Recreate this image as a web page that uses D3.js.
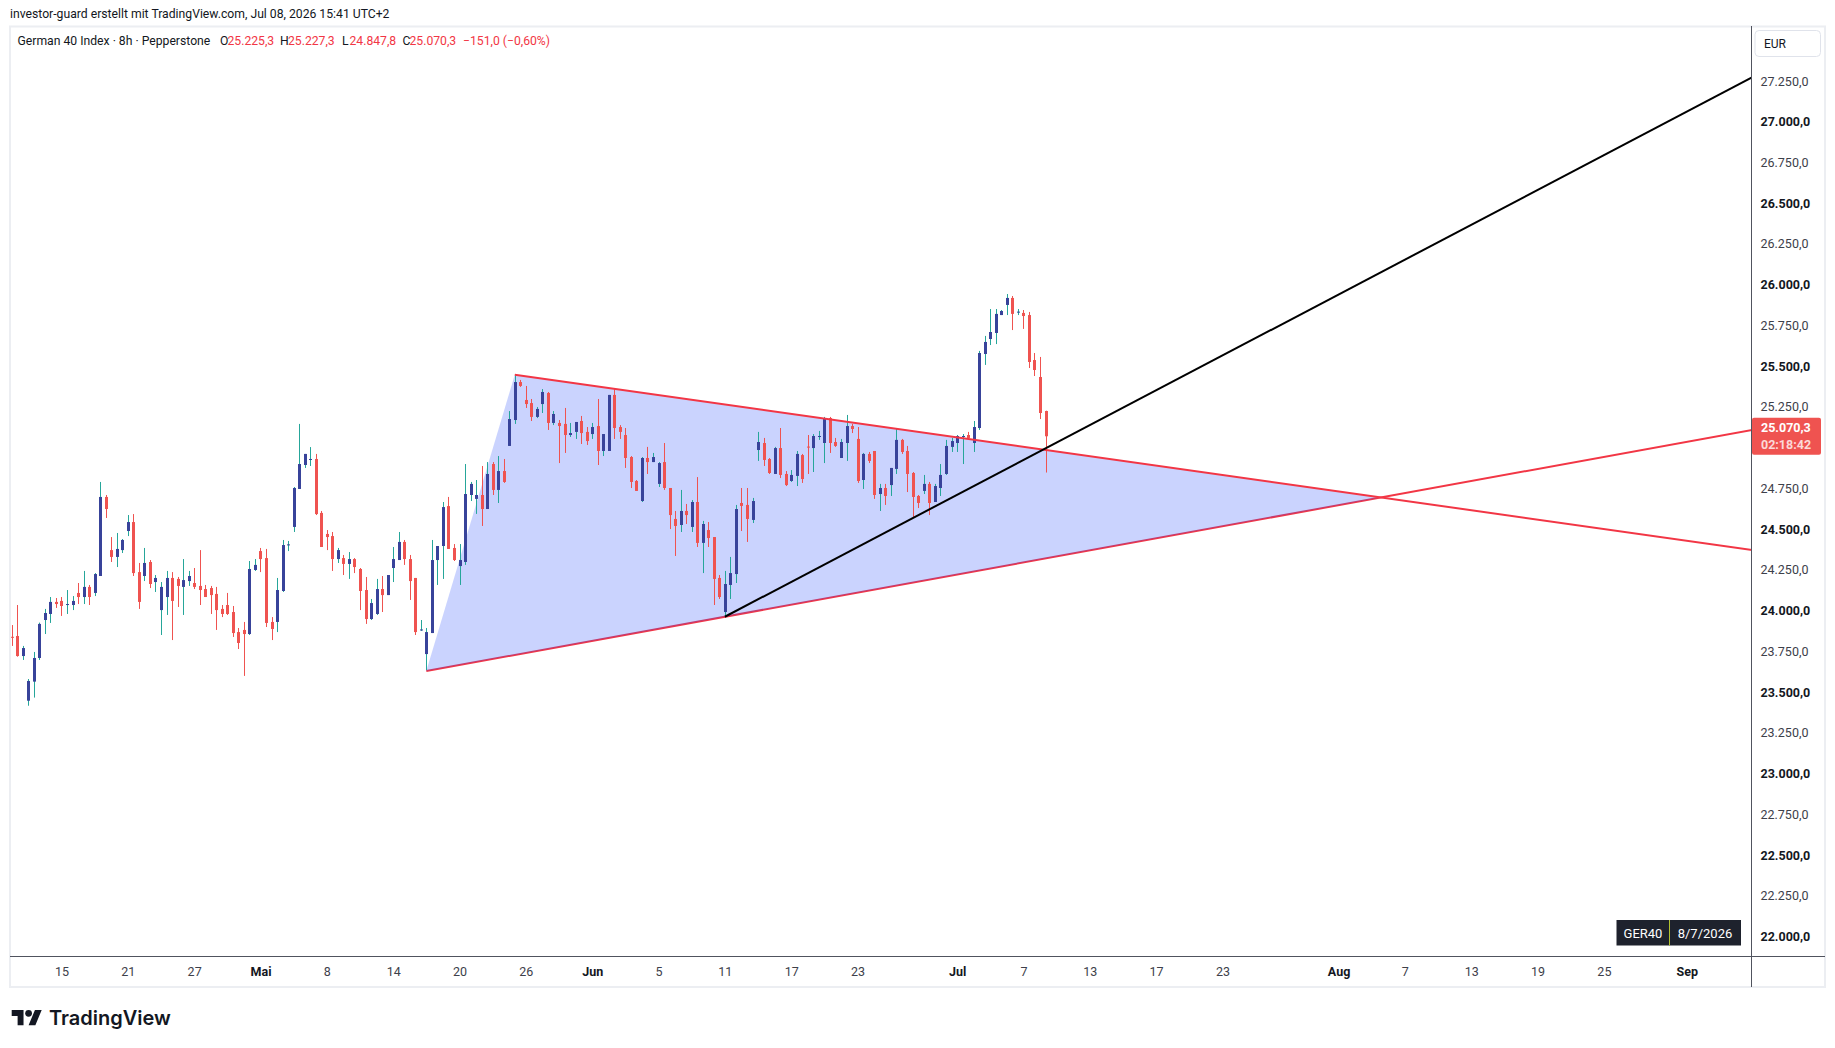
<!DOCTYPE html>
<html>
<head>
<meta charset="utf-8">
<script src="https://cdn.jsdelivr.net/npm/d3@7/dist/d3.min.js"></script>
<style>
body { margin: 0; background: #fff; overflow: hidden; }
svg text { font-family: Roboto, "Noto Sans", sans-serif; }
</style>
</head>
<body>
<div id="chart"></div>
<script>
// GER40 8h candles (bar 1 .. 188)
var opens = [23840,23845,23722,23448,23565,23710,23943,23980,24054,24060,24037,24035,24109,24084,24146,24109,24213,24698,24372,24330,
  24372,24489,24544,24237,24213,24299,24176,24004,24084,24201,24195,24146,24182,24170,24152,24133,24139,24103,24011,24035,
  23992,23869,23882,23857,24250,24366,24323,23931,23931,24121,24403,24514,24747,24894,24927,24931,24600,24471,24458,24317,
  24323,24287,24317,24256,24127,23949,23980,24133,24096,24262,24311,24422,24317,24201,23880,23734,23863,24311,24397,24642,
  24385,24274,24299,24710,24686,24710,24624,24900,24741,24857,25011,25170,25403,25293,25274,25189,25268,25336,25152,25152,
  25146,25078,25097,25164,25097,25084,25133,24980,24980,25324,25127,25078,24943,24796,24673,24937,24912,24778,24912,24753,
  24563,24526,24612,24514,24667,24416,24495,24452,24201,23992,24158,24225,24661,24649,24557,24986,25029,24931,24839,24998,
  24839,24796,24827,24955,25007,24998,25068,25029,25182,25035,24937,25029,25133,25054,24802,24962,24980,24716,24753,24771,
  24870,25048,24980,24845,24704,24735,24778,24667,24753,24839,25005,25029,25068,25078,25029,25121,25575,25667,25704,25814,
  25876,25919,25831,25827,25814,25538,25434,25225.3];
var highs = [23912,24035,23784,23581,23747,23927,24011,24084,24078,24084,24127,24090,24170,24244,24158,24231,24790,24710,24452,24477,
  24440,24587,24593,24293,24385,24311,24219,24176,24244,24237,24207,24317,24244,24262,24372,24158,24152,24146,24035,24109,
  24029,23894,23931,24305,24317,24385,24379,23961,24201,24434,24428,24759,25146,24962,25004,24962,24612,24495,24483,24385,
  24342,24360,24323,24262,24207,24072,24195,24213,24219,24391,24483,24434,24342,24201,23943,23894,24434,24397,24667,24698,
  24409,24409,24900,24790,24802,24888,24912,24912,24949,24931,25225,25446,25416,25379,25299,25250,25360,25342,25225,25170,
  25244,25152,25158,25195,25127,25152,25299,25084,25324,25360,25139,25121,24949,24802,24943,25005,24968,24912,25029,24753,
  24612,24741,24655,24679,24820,24551,24544,24452,24219,24244,24330,24649,24753,24753,24692,25097,25060,24937,25005,25121,
  24857,24863,24980,24962,25078,25084,25103,25189,25189,25060,25054,25201,25146,25127,24968,24974,24980,24778,24778,24876,
  25115,25054,25011,24851,24710,24833,24790,24778,24900,25048,25060,25078,25084,25097,25164,25594,25686,25851,25851,25845,
  25943,25931,25851,25845,25833,25581,25557,25227.3];
var lows = [23784,23718,23698,23417,23467,23698,23857,23925,24017,23968,23980,24004,24041,24041,24035,24090,24213,24569,24299,24268,
  24354,24458,24213,24011,24182,24139,24115,23851,23974,23820,24023,23974,24152,24133,24035,24084,23980,23882,23961,23974,
  23839,23765,23600,23851,24244,24237,23900,23820,23869,24115,24366,24483,24747,24876,24888,24587,24391,24372,24244,24293,
  24219,24195,24231,24004,23919,23943,23974,23992,24096,24176,24311,24281,24066,23851,23876,23636,23863,24158,24195,24379,
  24305,24158,24281,24673,24594,24520,24624,24710,24661,24784,25011,25146,25373,25244,25164,25182,25213,25109,25139,24906,
  24968,25066,25054,25023,25017,25054,24894,24949,24980,25054,25054,24876,24753,24735,24667,24839,24912,24759,24741,24501,
  24336,24483,24532,24483,24391,24231,24391,24035,24072,23962,24072,24170,24489,24422,24538,24919,24888,24839,24839,24814,
  24765,24790,24765,24784,24839,24851,25048,24906,24968,25005,24937,24919,25090,24784,24747,24906,24686,24612,24649,24704,
  24839,24962,24728,24569,24630,24716,24587,24667,24704,24833,24974,24974,24900,25060,24974,25109,25508,25630,25636,25814,
  25814,25722,25814,25729,25489,25440,25176,24847.8];
var closes = [23834,23722,23771,23569,23710,23919,23986,24054,24041,24029,24041,24060,24084,24146,24084,24225,24698,24624,24330,24379,
  24434,24544,24231,24054,24293,24164,24201,24146,24201,24060,24152,24188,24213,24146,24127,24084,24096,24004,23980,23980,
  23863,23802,23857,24256,24281,24317,23925,23888,24127,24403,24407,24753,24900,24962,24931,24593,24391,24452,24317,24372,
  24287,24317,24268,24121,23949,24047,24133,24096,24219,24317,24422,24317,24182,23869,23885,23869,24311,24397,24636,24379,
  24311,24311,24716,24778,24710,24624,24839,24741,24857,24790,25176,25403,25379,25268,25189,25238,25342,25152,25207,25133,
  25078,25090,25158,25090,25041,25127,24980,25084,25324,25121,25097,24937,24790,24735,24937,24912,24943,24906,24753,24587,
  24520,24612,24587,24667,24416,24532,24446,24195,24084,24164,24231,24624,24643,24563,24673,25035,24925,24845,24998,24833,
  24771,24833,24962,24808,25003,25072,25072,25182,25029,25011,25035,25133,25115,24796,24962,24919,24710,24753,24704,24876,
  25048,24974,24839,24698,24661,24778,24661,24765,24833,25011,25041,25072,25072,25060,25127,25581,25649,25710,25821,25839,
  25919,25821,25835,25808,25526,25477,25213,25070.3];

// time axis: label text and the bar index it sits on
var timeTickLabels = ["15","21","27","Mai","8","14","20","26","Jun","5","11","17","23","Jul","7","13","17","23","Aug","7","13","19","25","Sep"];
var timeTickBars = [10,22,34,46,58,70,82,94,106,118,130,142,154,172,184,196,208,220,241,253,265,277,289,304];

// drawings (bar index, price)
var triangleBars = [76, 92, 248.7];
var trianglePrices = [23630, 25448, 24695];
var blackLineBars = [130, 188];
var blackLinePrices = [23963, 24996];

var lastPrice = 25070.3;
var countdown = "02:18:42";

var width = 1835, height = 1048;
var paneLeft = 10, paneRight = 1751.5, paneTop = 27, paneBottom = 956.5;
var frameRight = 1825, frameBottom = 987;

var upBody = "#38439a", upWick = "#26a69a", downColor = "#ef5350", lineRed = "#f23645";

var svg = d3.select("#chart").append("svg")
    .attr("width", width).attr("height", height)
    .style("display", "block");

var xScale = d3.scaleLinear().domain([0.69, 315.7]).range([paneLeft, paneRight]);
var yScale = d3.scaleLinear().domain([22000, 27250]).range([936.7, 81]);

var de = d3.formatLocale({decimal: ",", thousands: ".", grouping: [3], currency: ["", "€"]});
var priceFmt = de.format(",.1f");

svg.append("defs").append("clipPath").attr("id", "pane")
  .append("rect").attr("x", paneLeft).attr("y", paneTop)
  .attr("width", paneRight - paneLeft).attr("height", paneBottom - paneTop);

// header line
svg.append("text").attr("x", 10).attr("y", 14).attr("dominant-baseline", "central")
  .style("font-size", "12.2px").attr("fill", "#131722")
  .text("investor-guard erstellt mit TradingView.com, Jul 08, 2026 15:41 UTC+2");

// frame
svg.append("rect").attr("x", 10).attr("y", 26.5).attr("width", frameRight - 10).attr("height", frameBottom - 26.5)
  .attr("fill", "none").attr("stroke", "#eceef2").attr("stroke-width", 2);

var pane = svg.append("g").attr("clip-path", "url(#pane)");

function extendTo(bars, prices, endBar) {
  var slope = (prices[1] - prices[0]) / (bars[1] - bars[0]);
  return [[bars[0], prices[0]], [endBar, prices[0] + slope * (endBar - bars[0])]];
}
var line = d3.line().x(function(d) { return xScale(d[0]); }).y(function(d) { return yScale(d[1]); });
var endBar = xScale.domain()[1] + 1;

// lower red line (under the fill)
pane.append("path")
  .attr("d", line(extendTo([triangleBars[0], triangleBars[2]], [trianglePrices[0], trianglePrices[2]], endBar)))
  .attr("stroke", lineRed).attr("stroke-width", 2).attr("fill", "none");

// triangle fill
var triPts = triangleBars.map(function(b, i) { return [b, trianglePrices[i]]; });
pane.append("path").attr("d", line(triPts) + "Z")
  .attr("fill", "rgba(45,80,250,0.25)").attr("stroke", "none");

// candles
var idx = d3.range(opens.length);
var candles = pane.append("g").selectAll("g.candle").data(idx).enter().append("g");
candles.append("line")
  .attr("x1", function(i) { return Math.round(xScale(i + 1)) + 0.5; })
  .attr("x2", function(i) { return Math.round(xScale(i + 1)) + 0.5; })
  .attr("y1", function(i) { return yScale(highs[i]); })
  .attr("y2", function(i) { return yScale(lows[i]); })
  .attr("stroke", function(i) { return closes[i] >= opens[i] ? upWick : downColor; })
  .attr("stroke-width", 1);
candles.append("rect")
  .attr("x", function(i) { return Math.round(xScale(i + 1)) - 1; })
  .attr("width", 3)
  .attr("y", function(i) { return yScale(Math.max(opens[i], closes[i])); })
  .attr("height", function(i) { return Math.max(1, Math.abs(yScale(opens[i]) - yScale(closes[i]))); })
  .attr("fill", function(i) { return closes[i] >= opens[i] ? upBody : downColor; });

// upper red line
pane.append("path")
  .attr("d", line(extendTo([triangleBars[1], triangleBars[2]], [trianglePrices[1], trianglePrices[2]], endBar)))
  .attr("stroke", lineRed).attr("stroke-width", 2).attr("fill", "none");

// black trend line
pane.append("path")
  .attr("d", line(extendTo(blackLineBars, blackLinePrices, endBar)))
  .attr("stroke", "#000").attr("stroke-width", 2).attr("fill", "none");

// legend
var legend = svg.append("text").attr("y", 41).attr("dominant-baseline", "central").style("font-size", "12.2px");
var legendParts = [
  [17.5, "German 40 Index · 8h · Pepperstone", "#131722"],
  [220, "O", "#131722"], [227.5, "25.225,3", lineRed],
  [280, "H", "#131722"], [288, "25.227,3", lineRed],
  [342, "L", "#131722"], [349.5, "24.847,8", lineRed],
  [402.5, "C", "#131722"], [409.5, priceFmt(lastPrice), lineRed],
  [463, "\u2212151,0 (\u22120,60%)", lineRed]
];
legendParts.forEach(function(p) {
  legend.append("tspan").attr("x", p[0]).attr("fill", p[2]).text(p[1]);
});

// price axis
var lastY = yScale(lastPrice);
var priceTicks = d3.range(22000, 27251, 250).filter(function(v) { return Math.abs(yScale(v) - lastY) > 22; });
var yAxis = d3.axisRight(yScale).tickValues(priceTicks).tickSize(0).tickPadding(9).tickFormat(priceFmt);
var yg = svg.append("g").attr("transform", "translate(" + paneRight + ",0)").call(yAxis);
yg.select(".domain").remove();
yg.selectAll("text")
  .style("font-family", "Roboto, 'Noto Sans', sans-serif")
  .style("font-size", "12.5px")
  .style("font-weight", function(d) { return d % 500 === 0 ? "bold" : "normal"; })
  .attr("fill", function(d) { return d % 500 === 0 ? "#131722" : "#3d404a"; });

// time axis
var xAxis = d3.axisBottom(xScale).tickValues(timeTickBars).tickSize(0).tickPadding(11)
  .tickFormat(function(d, i) { return timeTickLabels[i]; });
var xg = svg.append("g").attr("transform", "translate(0," + paneBottom + ")").call(xAxis);
xg.select(".domain").remove();
xg.selectAll("text")
  .style("font-family", "Roboto, 'Noto Sans', sans-serif")
  .style("font-size", "12.5px")
  .style("font-weight", function(d, i) { return isNaN(+timeTickLabels[i]) ? "bold" : "normal"; })
  .attr("fill", function(d, i) { return isNaN(+timeTickLabels[i]) ? "#131722" : "#3d404a"; });

// separators
svg.append("line").attr("x1", paneRight).attr("x2", paneRight).attr("y1", 26).attr("y2", frameBottom)
  .attr("stroke", "#50535e").attr("stroke-width", 1);
svg.append("line").attr("x1", 10).attr("x2", frameRight).attr("y1", paneBottom).attr("y2", paneBottom)
  .attr("stroke", "#50535e").attr("stroke-width", 1);

// EUR box
svg.append("rect").attr("x", 1755).attr("y", 30.5).attr("width", 65.5).attr("height", 26).attr("rx", 4)
  .attr("fill", "#fff").attr("stroke", "#e0e3eb");
svg.append("text").attr("x", 1764).attr("y", 43.7).attr("dominant-baseline", "central")
  .style("font-size", "12px").attr("fill", "#131722").text("EUR");

// last price label
svg.append("rect").attr("x", paneRight + 0.5).attr("y", lastY - 18.5).attr("width", 69).attr("height", 37)
  .attr("rx", 2).attr("fill", downColor);
svg.append("text").attr("x", 1761).attr("y", lastY - 8.5).attr("dominant-baseline", "central")
  .style("font-size", "12.5px").style("font-weight", "bold").attr("fill", "#fff").text(priceFmt(lastPrice));
svg.append("text").attr("x", 1761).attr("y", lastY + 8.5).attr("dominant-baseline", "central")
  .style("font-size", "12.5px").style("font-weight", "bold").attr("fill", "rgba(255,255,255,0.78)").text(countdown);

// symbol/date box
var sb = svg.append("g");
sb.append("rect").attr("x", 1616.5).attr("y", 920).attr("width", 124.5).attr("height", 25.5).attr("fill", "#1e222d");
sb.append("line").attr("x1", 1669.5).attr("x2", 1669.5).attr("y1", 920).attr("y2", 945.5).attr("stroke", "#b2c230");
sb.append("text").attr("x", 1643).attr("y", 933).attr("text-anchor", "middle").attr("dominant-baseline", "central")
  .style("font-size", "13px").attr("fill", "#fff").text("GER40");
sb.append("text").attr("x", 1705).attr("y", 933).attr("text-anchor", "middle").attr("dominant-baseline", "central")
  .style("font-size", "13px").attr("fill", "#fff").text("8/7/2026");

// TradingView logo
svg.append("g").attr("transform", "translate(11.7,1006.6) scale(0.845)")
  .call(function(g) {
    g.append("path").attr("d", "M14 22H7V11H0V4h14v18zM28 22h-8l7.5-18h8L28 22z").attr("fill", "#131722");
    g.append("circle").attr("cx", 20).attr("cy", 8).attr("r", 4).attr("fill", "#131722");
  });
svg.append("text").attr("x", 49).attr("y", 1025).style("font-family", "Inter, Roboto, sans-serif")
  .style("font-size", "20px").style("font-weight", "600").attr("fill", "#131722").text("TradingView");
</script>
</body>
</html>
